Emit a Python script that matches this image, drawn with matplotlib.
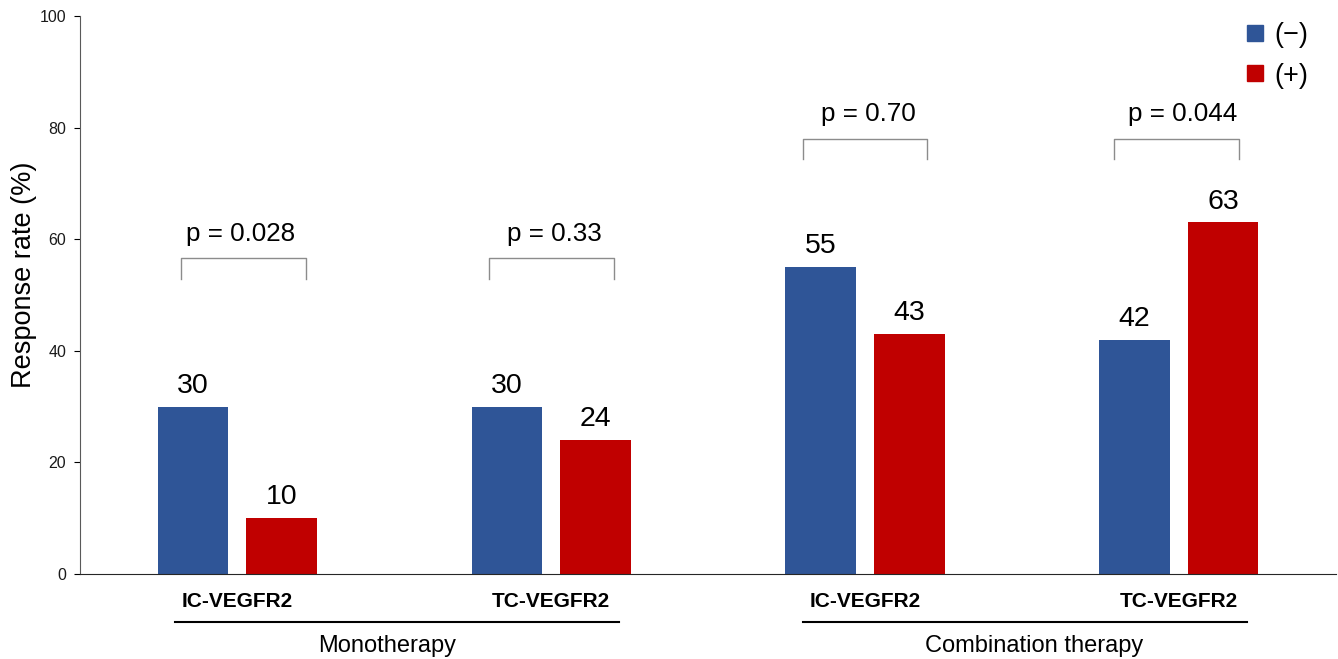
#!/usr/bin/env python3
"""Response rate by VEGFR2 status, monotherapy vs combination therapy."""

import matplotlib
matplotlib.use("Agg")
import matplotlib.pyplot as plt
from matplotlib.lines import Line2D
import numpy as np

plt.rcParams["font.family"] = ["Liberation Sans", "DejaVu Sans"]

categories = ["IC-VEGFR2", "TC-VEGFR2", "IC-VEGFR2", "TC-VEGFR2"]
negative = [30, 30, 55, 42]
positive = [10, 24, 43, 63]
p_values = ["p = 0.028", "p = 0.33", "p = 0.70", "p = 0.044"]
bracket_tops = [56.6, 56.6, 78.0, 78.0]
therapies = ["Monotherapy", "Combination therapy"]
series_labels = ["(\u2212)", "(+)"]

BLUE = "#2F5597"
RED = "#C00000"


def bracket(ax, x0, x1, top, drop=3.7):
    ax.plot([x0, x0, x1, x1], [top - drop, top, top, top - drop],
            color="#8c8c8c", linewidth=1.0, solid_joinstyle="round")


def main() -> None:
    fig = plt.figure(figsize=(13.38, 6.59), dpi=100)
    ax = fig.add_axes([0.0598, 0.129, 0.9387, 0.8467])

    x = np.arange(len(categories))
    width = 0.223
    offset = 0.1417
    ax.bar(x - offset, negative, width, color=BLUE)
    ax.bar(x + offset, positive, width, color=RED)

    for xi, v in zip(x - offset, negative):
        ax.annotate(str(v), (xi, v), xytext=(0, 10), textcoords="offset points",
                    ha="center", va="baseline", fontsize=20.5)
    for xi, v in zip(x + offset, positive):
        ax.annotate(str(v), (xi, v), xytext=(0, 10), textcoords="offset points",
                    ha="center", va="baseline", fontsize=20.5)

    # first bracket sits a little right of its pair
    nudge = [0.022, 0.003, 0.0, -0.008]
    for xi, p, top, dx in zip(x, p_values, bracket_tops, nudge):
        bracket(ax, xi + dx - 0.199, xi + dx + 0.199, top)
        ax.text(xi + 0.012, top + 3.1, p, ha="center", va="baseline", fontsize=18.7)

    ax.set_xlim(-0.5, 3.5)
    ax.set_ylim(0, 100)
    ax.set_yticks(range(0, 101, 20))
    ax.set_xticks([])
    ax.tick_params(axis="y", direction="out", length=4, width=0.8,
                   labelsize=11.5, labelcolor="#1a1a1a", pad=6)
    ax.spines["top"].set_visible(False)
    ax.spines["right"].set_visible(False)
    ax.spines["left"].set_color("#595959")
    ax.spines["bottom"].set_color("#262626")
    fig.text(24 / 1338, 1 - 275 / 659, "Response rate (%)", rotation=90,
             ha="center", va="center", fontsize=19.5)

    # category labels and therapy groups under the axis
    for xi, cat in zip(x, categories):
        ax.text(xi, -4.9, cat, ha="center", va="center", fontsize=15,
                fontweight="bold", clip_on=False)
    for (a, b), name, tx in zip([(0, 1), (2, 3)], therapies, [0.479, 2.54]):
        ax.plot([a - 0.199, b + 0.218], [-8.6, -8.6], color="black",
                linewidth=1.5, clip_on=False)
        ax.text(tx, -12.9, name, ha="center", va="center", fontsize=17,
                clip_on=False)

    handles = [Line2D([], [], marker="s", linestyle="none", markersize=11,
                      markerfacecolor=c, markeredgecolor=c) for c in (BLUE, RED)]
    fig.legend(handles, series_labels, loc="upper right",
               bbox_to_anchor=(1308 / 1338, 1 - 22 / 659), frameon=False,
               fontsize=19.5, handletextpad=0.2, labelspacing=0.55,
               borderpad=0, borderaxespad=0, handlelength=1.0)

    fig.savefig("out.png", dpi=100)
    plt.close(fig)


if __name__ == "__main__":
    main()
